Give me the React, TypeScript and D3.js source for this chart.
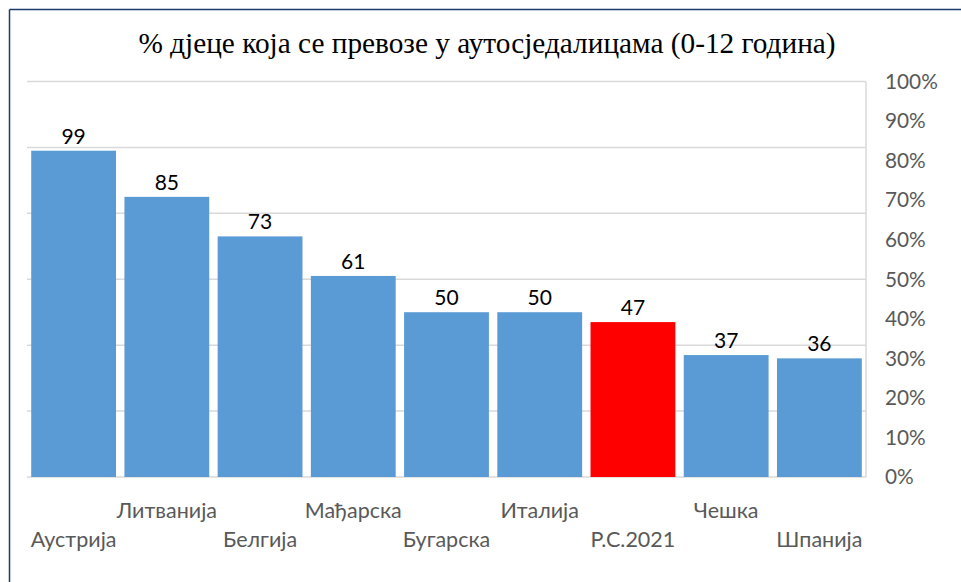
import React, { useEffect } from 'react';
import * as d3 from 'd3';

// data
const categories = ['Аустрија', 'Литванија', 'Белгија', 'Мађарска', 'Бугарска', 'Италија', 'Р.С.2021', 'Чешка', 'Шпанија'];
const values = [99, 85, 73, 61, 50, 50, 47, 37, 36];
const highlighted = 'Р.С.2021';
const gridTicks = [0, 20, 40, 60, 80, 100, 120];
const percentTicks = [0, 0.1, 0.2, 0.3, 0.4, 0.5, 0.6, 0.7, 0.8, 0.9, 1];
const title = '% дјеце која се превозе у аутосједалицама (0-12 година)';

const width = 961;
const height = 582;
const left = 27;
const right = 866;
const top = 81.5;
const bottom = 477;

const labelFont = 'Lato, "Open Sans", sans-serif';

export default function App() {
  useEffect(() => {
    document.body.style.margin = '0';
  }, []);

  const x = d3
    .scaleBand()
    .domain(categories)
    .range([left, right])
    .paddingInner(0.09)
    .paddingOuter(0.045);

  // hidden primary axis that the bars use
  const y = d3.scaleLinear().domain([0, 120]).range([bottom, top]);
  // secondary axis shown on the right, not tied to the bars
  const yRight = d3.scaleLinear().domain([0, 1]).range([bottom, top]);
  const pct = d3.format('.0%');

  return (
    <svg width={width} height={height} style={{ display: 'block', background: '#fff' }}>
      <line x1={9.5} x2={width} y1={9.5} y2={9.5} stroke="#1f3a6e" strokeWidth={1.5} />
      <line x1={9.5} x2={9.5} y1={9.5} y2={height} stroke="#1f3a6e" strokeWidth={1.5} />

      <text
        x={487}
        y={53}
        textAnchor="middle"
        fontFamily='"Liberation Serif", "Times New Roman", serif'
        fontSize={29.3}
        fill="#000"
      >
        {title}
      </text>

      {gridTicks.map(t => (
        <line key={t} x1={left} x2={right} y1={y(t)} y2={y(t)} stroke="#d9d9d9" strokeWidth={1.5} />
      ))}
      <line x1={right} x2={right} y1={top} y2={bottom} stroke="#d9d9d9" strokeWidth={1.5} />

      {percentTicks.map(t => (
        <text
          key={t}
          x={885}
          y={yRight(t)}
          dy="0.35em"
          fontFamily={labelFont}
          fontSize={20.8}
          fill="#595959"
        >
          {pct(t)}
        </text>
      ))}

      {categories.map((c, i) => (
        <g key={c}>
          <rect
            x={x(c)}
            y={y(values[i])}
            width={x.bandwidth()}
            height={bottom - y(values[i])}
            fill={c === highlighted ? '#ff0000' : '#5b9bd5'}
          />
          <text
            x={x(c) + x.bandwidth() / 2}
            y={y(values[i]) - 7}
            textAnchor="middle"
            fontFamily={labelFont}
            fontSize={21}
            fill="#000"
          >
            {values[i]}
          </text>
          <text
            x={x(c) + x.bandwidth() / 2}
            y={i % 2 === 0 ? 547 : 518}
            textAnchor="middle"
            fontFamily={labelFont}
            fontSize={21.5}
            fill="#595959"
          >
            {c}
          </text>
        </g>
      ))}
    </svg>
  );
}
